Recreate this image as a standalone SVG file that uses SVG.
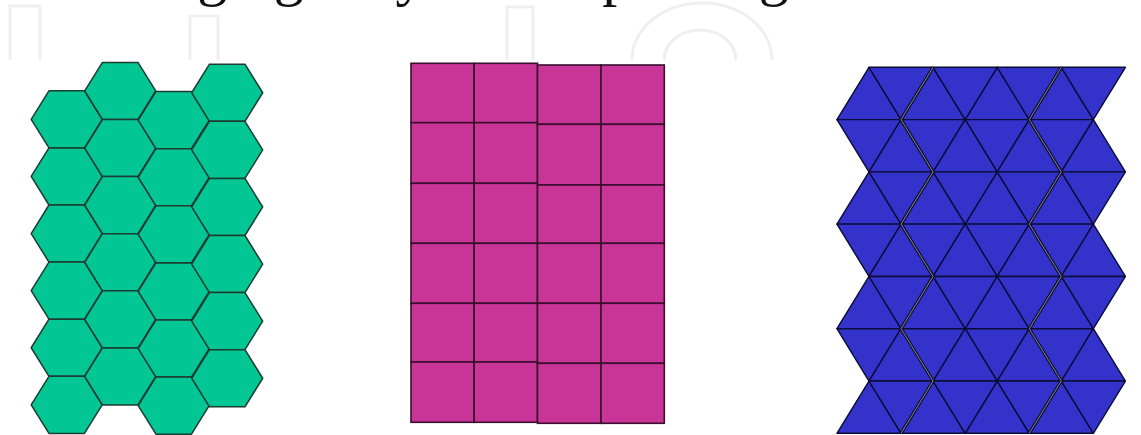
<svg xmlns="http://www.w3.org/2000/svg" xmlns:xlink="http://www.w3.org/1999/xlink" width="1141" height="435" viewBox="0 0 1141 435">
  <style>
    .hex { fill:#02c795; stroke:#1d3b30; stroke-width:1.5; stroke-linejoin:round; }
    .sq { fill:#c83597; stroke:#3a0e2e; stroke-width:1.6; }
    .tri { fill:#3333cc; stroke:#0b0b36; stroke-width:1.4; stroke-linejoin:round; }
    .seam-d { fill:none; stroke:#0b0b36; stroke-width:3.2; stroke-linejoin:round; }
    .seam-l { fill:none; stroke:#9a9a7a; stroke-width:0.9; stroke-linejoin:round; }
    .wm { fill:none; stroke:#efefef; stroke-width:3; }
    .caption { font-family:"Liberation Serif", "Times New Roman", serif; font-size:60px; fill:#111; }
  </style>
  <defs>
    <polygon id="hx" points="-35.5,0 -17.75,-28.55 17.75,-28.55 35.5,0 17.75,28.55 -17.75,28.55"/>
    <polygon id="tu" points="0,52.29 64.1,52.29 32.05,0"/>
    <polygon id="td" points="0,0 64.1,0 32.05,52.29"/>
  </defs>

  <g id="watermark">
    <path class="wm" d="M10,60 V6 H40 V60"/>
    <path class="wm" d="M190,60 V16 H218 V60"/>
    <path class="wm" d="M507,60 V7 H533 V60"/>
    <path class="wm" d="M632,60 A70,57 0 0 1 772,60"/>
    <path class="wm" d="M664,60 A36,30 0 0 1 736,60"/>
  </g>

  <text class="caption" x="-196" y="-6">them when changing only the map in Fig. 7.</text>

  <g id="hexagonal-cells">
    <use class="hex" href="#hx" x="66.7" y="119.35"/>
    <use class="hex" href="#hx" x="66.7" y="176.45"/>
    <use class="hex" href="#hx" x="66.7" y="233.55"/>
    <use class="hex" href="#hx" x="66.7" y="290.65"/>
    <use class="hex" href="#hx" x="66.7" y="347.75"/>
    <use class="hex" href="#hx" x="66.7" y="404.85"/>
    <use class="hex" href="#hx" x="120.2" y="90.95"/>
    <use class="hex" href="#hx" x="120.2" y="148.05"/>
    <use class="hex" href="#hx" x="120.2" y="205.15"/>
    <use class="hex" href="#hx" x="120.2" y="262.25"/>
    <use class="hex" href="#hx" x="120.2" y="319.35"/>
    <use class="hex" href="#hx" x="120.2" y="376.45"/>
    <use class="hex" href="#hx" x="173.7" y="120.15"/>
    <use class="hex" href="#hx" x="173.7" y="177.25"/>
    <use class="hex" href="#hx" x="173.7" y="234.35"/>
    <use class="hex" href="#hx" x="173.7" y="291.45"/>
    <use class="hex" href="#hx" x="173.7" y="348.55"/>
    <use class="hex" href="#hx" x="173.7" y="405.65"/>
    <use class="hex" href="#hx" x="227.2" y="92.75"/>
    <use class="hex" href="#hx" x="227.2" y="149.85"/>
    <use class="hex" href="#hx" x="227.2" y="206.95"/>
    <use class="hex" href="#hx" x="227.2" y="264.05"/>
    <use class="hex" href="#hx" x="227.2" y="321.15"/>
    <use class="hex" href="#hx" x="227.2" y="378.25"/>
  </g>

  <g id="square-cells">
    <rect class="sq" x="411" y="63.3" width="63.2" height="59.4"/>
    <rect class="sq" x="411" y="122.7" width="63.2" height="60.6"/>
    <rect class="sq" x="411" y="183.3" width="63.2" height="60"/>
    <rect class="sq" x="411" y="243.3" width="63.2" height="60"/>
    <rect class="sq" x="411" y="303.3" width="63.2" height="58.7"/>
    <rect class="sq" x="411" y="362" width="63.2" height="60.3"/>
    <rect class="sq" x="474.2" y="63.3" width="63.3" height="59.4"/>
    <rect class="sq" x="474.2" y="122.7" width="63.3" height="60.6"/>
    <rect class="sq" x="474.2" y="183.3" width="63.3" height="60"/>
    <rect class="sq" x="474.2" y="243.3" width="63.3" height="60"/>
    <rect class="sq" x="474.2" y="303.3" width="63.3" height="58.7"/>
    <rect class="sq" x="474.2" y="362" width="63.3" height="60.3"/>
    <rect class="sq" x="537.5" y="65" width="63.5" height="59.3"/>
    <rect class="sq" x="537.5" y="124.3" width="63.5" height="60.7"/>
    <rect class="sq" x="537.5" y="185" width="63.5" height="58.3"/>
    <rect class="sq" x="537.5" y="243.3" width="63.5" height="60"/>
    <rect class="sq" x="537.5" y="303.3" width="63.5" height="60"/>
    <rect class="sq" x="537.5" y="363.3" width="63.5" height="60"/>
    <rect class="sq" x="601" y="65" width="63.3" height="59.3"/>
    <rect class="sq" x="601" y="124.3" width="63.3" height="60.7"/>
    <rect class="sq" x="601" y="185" width="63.3" height="58.3"/>
    <rect class="sq" x="601" y="243.3" width="63.3" height="60"/>
    <rect class="sq" x="601" y="303.3" width="63.3" height="60"/>
    <rect class="sq" x="601" y="363.3" width="63.3" height="60"/>
  </g>

  <g id="triangular-cells">
    <!-- row 0 -->
    <use class="tri" href="#tu" x="836.95" y="67.3"/>
    <use class="tri" href="#tu" x="901.05" y="67.3"/>
    <use class="tri" href="#tu" x="965.15" y="67.3"/>
    <use class="tri" href="#tu" x="1029.25" y="67.3"/>
    <use class="tri" href="#td" x="869" y="67.3"/>
    <use class="tri" href="#td" x="933.1" y="67.3"/>
    <use class="tri" href="#td" x="997.2" y="67.3"/>
    <use class="tri" href="#td" x="1061.3" y="67.3"/>
    <!-- row 1 -->
    <use class="tri" href="#td" x="836.95" y="119.59"/>
    <use class="tri" href="#td" x="901.05" y="119.59"/>
    <use class="tri" href="#td" x="965.15" y="119.59"/>
    <use class="tri" href="#td" x="1029.25" y="119.59"/>
    <use class="tri" href="#tu" x="869" y="119.59"/>
    <use class="tri" href="#tu" x="933.1" y="119.59"/>
    <use class="tri" href="#tu" x="997.2" y="119.59"/>
    <use class="tri" href="#tu" x="1061.3" y="119.59"/>
    <!-- row 2 -->
    <use class="tri" href="#tu" x="836.95" y="171.87"/>
    <use class="tri" href="#tu" x="901.05" y="171.87"/>
    <use class="tri" href="#tu" x="965.15" y="171.87"/>
    <use class="tri" href="#tu" x="1029.25" y="171.87"/>
    <use class="tri" href="#td" x="869" y="171.87"/>
    <use class="tri" href="#td" x="933.1" y="171.87"/>
    <use class="tri" href="#td" x="997.2" y="171.87"/>
    <use class="tri" href="#td" x="1061.3" y="171.87"/>
    <!-- row 3 -->
    <use class="tri" href="#td" x="836.95" y="224.16"/>
    <use class="tri" href="#td" x="901.05" y="224.16"/>
    <use class="tri" href="#td" x="965.15" y="224.16"/>
    <use class="tri" href="#td" x="1029.25" y="224.16"/>
    <use class="tri" href="#tu" x="869" y="224.16"/>
    <use class="tri" href="#tu" x="933.1" y="224.16"/>
    <use class="tri" href="#tu" x="997.2" y="224.16"/>
    <use class="tri" href="#tu" x="1061.3" y="224.16"/>
    <!-- row 4 -->
    <use class="tri" href="#tu" x="836.95" y="276.44"/>
    <use class="tri" href="#tu" x="901.05" y="276.44"/>
    <use class="tri" href="#tu" x="965.15" y="276.44"/>
    <use class="tri" href="#tu" x="1029.25" y="276.44"/>
    <use class="tri" href="#td" x="869" y="276.44"/>
    <use class="tri" href="#td" x="933.1" y="276.44"/>
    <use class="tri" href="#td" x="997.2" y="276.44"/>
    <use class="tri" href="#td" x="1061.3" y="276.44"/>
    <!-- row 5 -->
    <use class="tri" href="#td" x="836.95" y="328.73"/>
    <use class="tri" href="#td" x="901.05" y="328.73"/>
    <use class="tri" href="#td" x="965.15" y="328.73"/>
    <use class="tri" href="#td" x="1029.25" y="328.73"/>
    <use class="tri" href="#tu" x="869" y="328.73"/>
    <use class="tri" href="#tu" x="933.1" y="328.73"/>
    <use class="tri" href="#tu" x="997.2" y="328.73"/>
    <use class="tri" href="#tu" x="1061.3" y="328.73"/>
    <!-- row 6 -->
    <use class="tri" href="#tu" x="836.95" y="381.01"/>
    <use class="tri" href="#tu" x="901.05" y="381.01"/>
    <use class="tri" href="#tu" x="965.15" y="381.01"/>
    <use class="tri" href="#tu" x="1029.25" y="381.01"/>
    <use class="tri" href="#td" x="869" y="381.01"/>
    <use class="tri" href="#td" x="933.1" y="381.01"/>
    <use class="tri" href="#td" x="997.2" y="381.01"/>
    <use class="tri" href="#td" x="1061.3" y="381.01"/>
    <!-- seams -->
    <polyline class="seam-d" points="933.1,67.3 901.05,119.59 933.1,171.87 901.05,224.16 933.1,276.44 901.05,328.73 933.1,381.01 901.05,433.3"/>
    <polyline class="seam-l" points="933.1,67.3 901.05,119.59 933.1,171.87 901.05,224.16 933.1,276.44 901.05,328.73 933.1,381.01 901.05,433.3"/>
    <polyline class="seam-d" points="1061.3,67.3 1029.25,119.59 1061.3,171.87 1029.25,224.16 1061.3,276.44 1029.25,328.73 1061.3,381.01 1029.25,433.3"/>
    <polyline class="seam-l" points="1061.3,67.3 1029.25,119.59 1061.3,171.87 1029.25,224.16 1061.3,276.44 1029.25,328.73 1061.3,381.01 1029.25,433.3"/>
  </g>
</svg>
